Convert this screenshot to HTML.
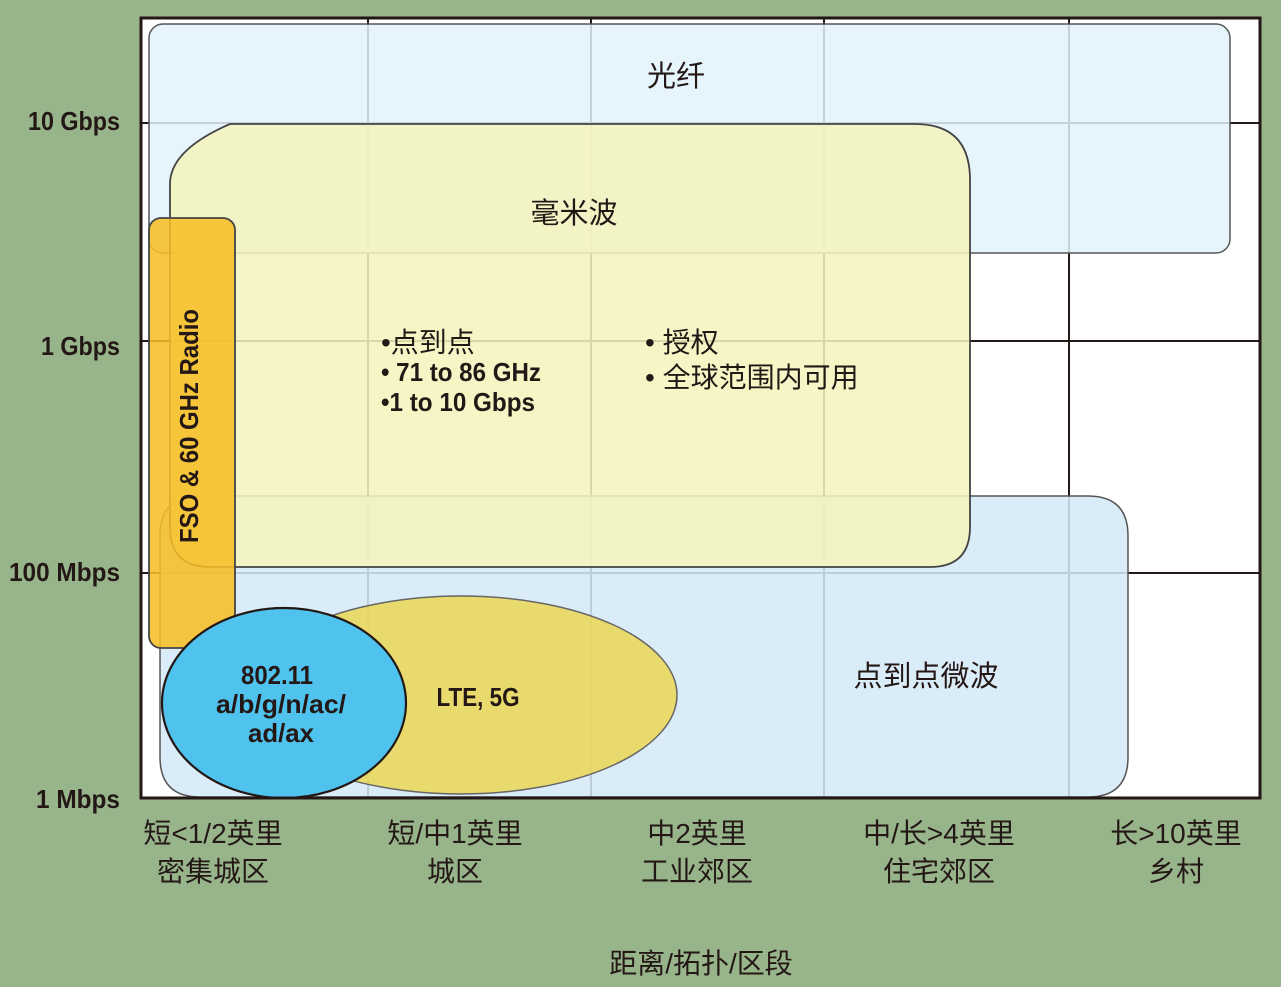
<!DOCTYPE html>
<html><head><meta charset="utf-8"><style>
html,body{margin:0;padding:0;background:#98b48b;}
svg{display:block}
.c{font-family:"Liberation Sans","Noto Sans CJK SC",sans-serif;fill:#231815;}
.b{font-family:"Liberation Sans Narrow","Liberation Sans",sans-serif;font-weight:bold;fill:#231815;}
</style></head><body>
<svg width="1281" height="987" viewBox="0 0 1281 987" xmlns="http://www.w3.org/2000/svg">
<rect x="0" y="0" width="1281" height="987" fill="#98b48b"/>
<rect x="141" y="18" width="1119" height="780" fill="#fff"/>
<g stroke="#231815" stroke-width="2">
<line x1="141" y1="123" x2="1260" y2="123"/>
<line x1="141" y1="341" x2="1260" y2="341"/>
<line x1="141" y1="573" x2="1260" y2="573"/>
<line x1="368" y1="18" x2="368" y2="798"/>
<line x1="591" y1="18" x2="591" y2="798"/>
<line x1="824" y1="18" x2="824" y2="798"/>
<line x1="1069" y1="18" x2="1069" y2="798"/>
</g>
<rect x="149" y="24" width="1081" height="229" rx="14" fill="#e2f2fa" fill-opacity="0.85" stroke="#555" stroke-width="1.5"/>
<path d="M200,496 H1088 Q1128,496 1128,536 V757 Q1128,797 1088,797 H200 Q160,797 160,757 V536 Q160,496 200,496 Z" fill="#d5e9f6" fill-opacity="0.87" stroke="#555" stroke-width="1.5"/>
<path d="M230,124 H915 Q970,124 970,180 V527 Q970,567 930,567 H210 Q170,567 170,527 V184 Q170,150 230,124 Z" fill="#f5f3bd" fill-opacity="0.87" stroke="#444" stroke-width="1.8"/>
<rect x="149" y="218" width="86" height="430" rx="12" fill="#f7bd25" fill-opacity="0.87" stroke="#444" stroke-width="1.8"/>
<ellipse cx="461" cy="695" rx="216" ry="99" fill="#ead758" fill-opacity="0.87" stroke="#666" stroke-width="1.5"/>
<ellipse cx="284" cy="703" rx="122" ry="95" fill="#4fc3ee" stroke="#231815" stroke-width="2.2"/>
<rect x="141" y="18" width="1119" height="780" fill="none" stroke="#231815" stroke-width="3"/>

<g class="c" font-size="29" text-anchor="middle">
<text x="676" y="86">光纤</text>
<text x="574" y="223">毫米波</text>
<text x="926" y="686">点到点微波</text>
</g>
<g class="c" font-size="28">
<text x="645" y="352">• 授权</text>
<text x="645" y="387">• 全球范围内可用</text>
<text x="381" y="352">•点到点</text>
</g>
<g class="b" font-size="26">
<text x="381" y="381" textLength="160" lengthAdjust="spacingAndGlyphs">• 71 to 86 GHz</text>
<text x="381" y="411" textLength="154" lengthAdjust="spacingAndGlyphs">•1 to 10 Gbps</text>
<text x="478" y="706" text-anchor="middle" textLength="83" lengthAdjust="spacingAndGlyphs">LTE, 5G</text>
</g>
<g class="b" font-size="26" text-anchor="middle">
<text x="277" y="684" textLength="72" lengthAdjust="spacingAndGlyphs">802.11</text>
<text x="281" y="713" textLength="130" lengthAdjust="spacingAndGlyphs">a/b/g/n/ac/</text>
<text x="281" y="742" textLength="66" lengthAdjust="spacingAndGlyphs">ad/ax</text>
</g>
<text class="b" font-size="26" text-anchor="middle" transform="translate(198,426) rotate(-90)" textLength="234" lengthAdjust="spacingAndGlyphs">FSO &amp; 60 GHz Radio</text>
<g class="b" font-size="26" text-anchor="end">
<text x="120" y="130" textLength="92" lengthAdjust="spacingAndGlyphs">10 Gbps</text>
<text x="120" y="355" textLength="79" lengthAdjust="spacingAndGlyphs">1 Gbps</text>
<text x="120" y="581" textLength="111" lengthAdjust="spacingAndGlyphs">100 Mbps</text>
<text x="120" y="808" textLength="84" lengthAdjust="spacingAndGlyphs">1 Mbps</text>
</g>
<g class="c" font-size="28" text-anchor="middle">
<text x="213" y="843">短&lt;1/2英里</text><text x="213" y="881">密集城区</text>
<text x="455" y="843">短/中1英里</text><text x="455" y="881">城区</text>
<text x="697" y="843">中2英里</text><text x="697" y="881">工业郊区</text>
<text x="939" y="843">中/长&gt;4英里</text><text x="939" y="881">住宅郊区</text>
<text x="1176" y="843">长&gt;10英里</text><text x="1176" y="881">乡村</text>
<text x="701" y="973">距离/拓扑/区段</text>
</g>
</svg>
</body></html>
